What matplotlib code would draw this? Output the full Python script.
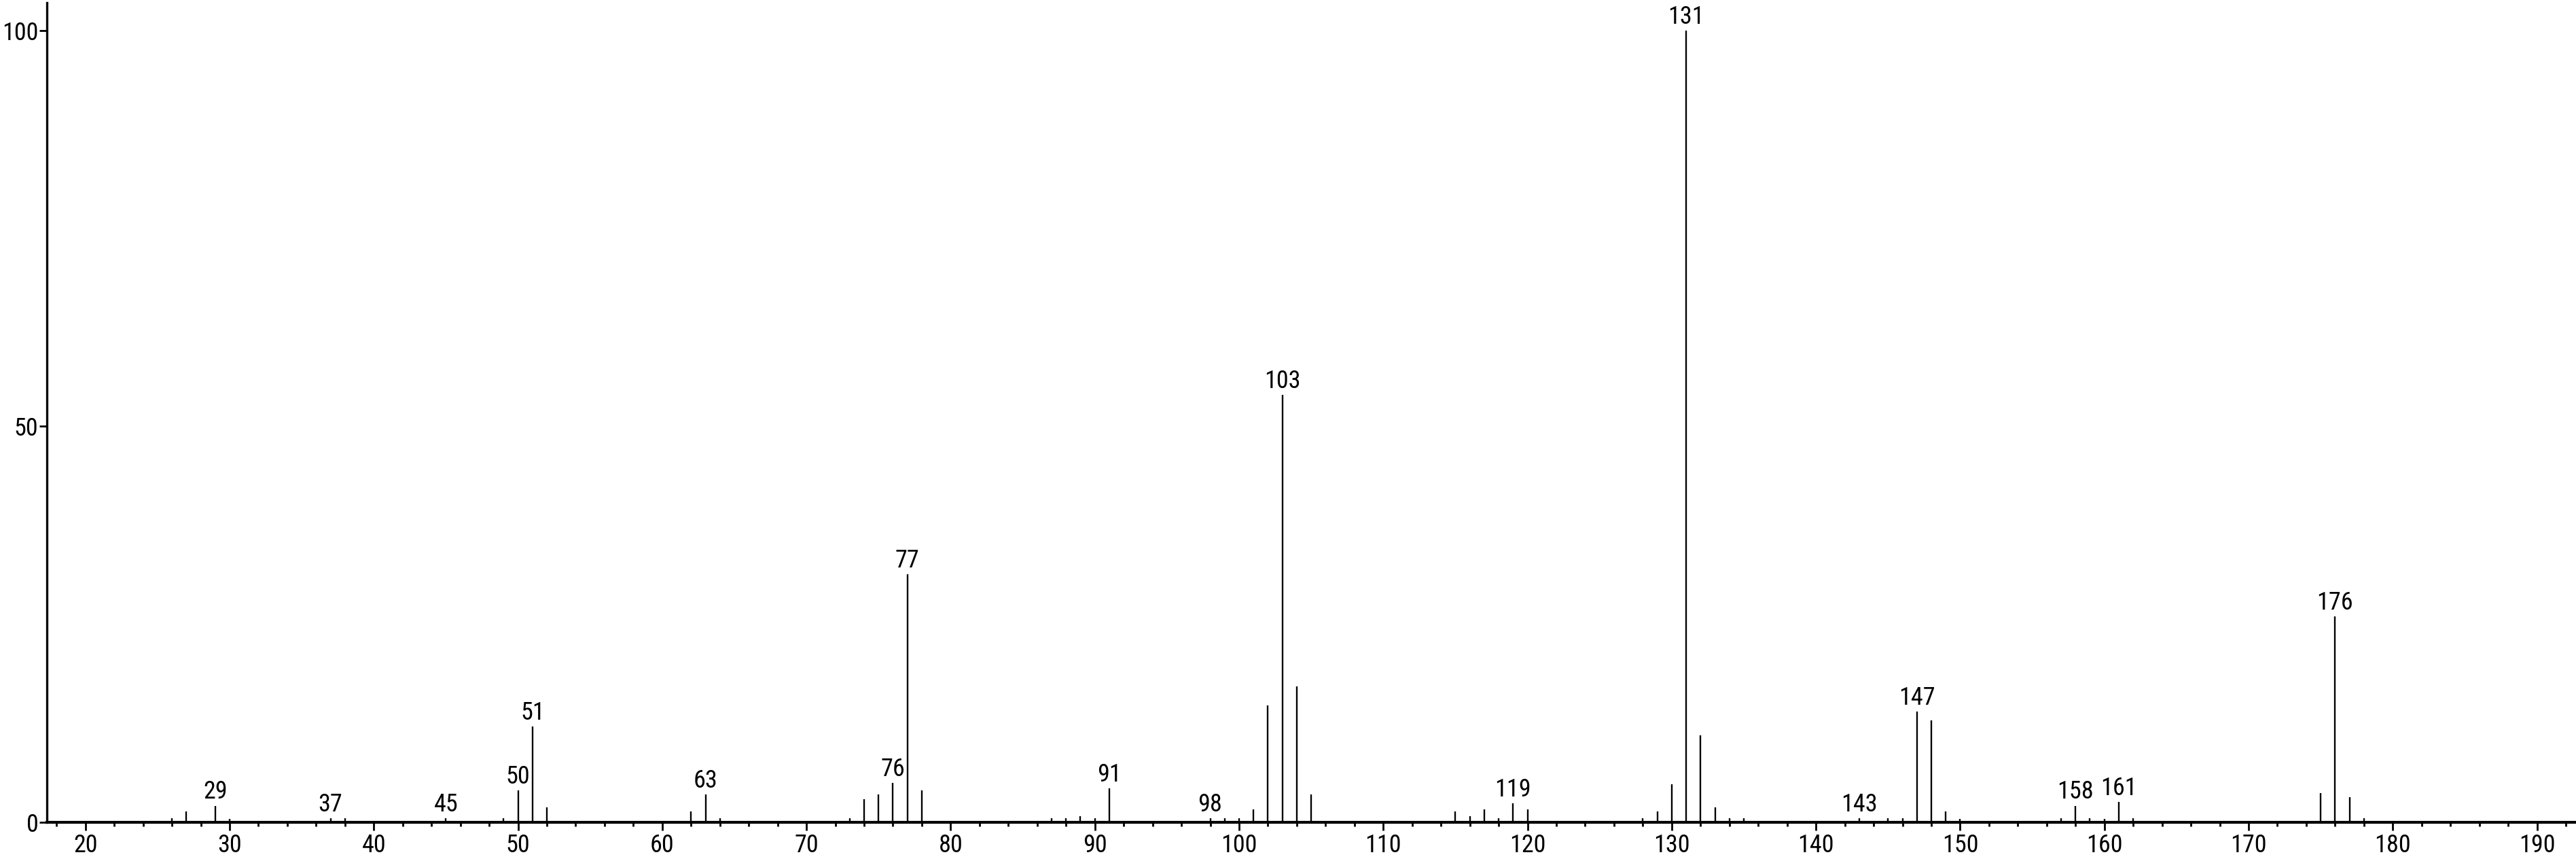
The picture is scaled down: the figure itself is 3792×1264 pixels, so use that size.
"""
Spectre de masse (barres verticales).
Trace les pics m/z avec leur intensité relative et annote les pics principaux.
"""

import matplotlib
matplotlib.use("Agg")
import matplotlib.pyplot as plt
from matplotlib.ticker import MultipleLocator

mz = [26, 27, 29, 30, 37, 38, 45, 49, 50, 51, 52, 62, 63, 64,
      73, 74, 75, 76, 77, 78, 87, 88, 89, 90, 91, 98, 99, 100,
      101, 102, 103, 104, 105, 115, 116, 117, 118, 119, 120,
      128, 129, 130, 131, 132, 133, 134, 135, 143, 145, 146,
      147, 148, 149, 150, 157, 158, 159, 160, 161, 162,
      175, 176, 177, 178]
intensite = [0.5, 1.4, 2.1, 0.4, 0.5, 0.5, 0.5, 0.5, 4.0, 12.1, 1.9, 1.4, 3.5, 0.5,
             0.5, 2.9, 3.5, 5.0, 31.3, 4.0, 0.5, 0.5, 0.8, 0.5, 4.3, 0.5, 0.5, 0.5,
             1.6, 14.8, 54.0, 17.2, 3.5, 1.35, 0.8, 1.6, 0.5, 2.4, 1.6,
             0.5, 1.35, 4.8, 100.0, 11.0, 1.9, 0.5, 0.5, 0.5, 0.5, 0.5,
             14.0, 12.9, 1.35, 0.4, 0.5, 2.1, 0.5, 0.4, 2.6, 0.5,
             3.7, 26.0, 3.2, 0.5]

# Pics annotés
pics_annotes = [29, 37, 45, 50, 51, 63, 76, 77, 91, 98, 103, 119,
                131, 143, 147, 158, 161, 176]

x_ticks = [20, 30, 40, 50, 60, 70, 80, 90, 100, 110, 120, 130,
           140, 150, 160, 170, 180, 190]
y_ticks = [0, 50, 100]


def tracer_spectre():
    # police étroite si disponible, sinon Liberation Sans
    plt.rcParams['font.family'] = ['Roboto Condensed', 'Liberation Sans Narrow',
                                   'Liberation Sans', 'DejaVu Sans']

    fig = plt.figure(figsize=(37.92, 12.64), dpi=100)
    ax = fig.add_axes([0.0182, 0.0427, 0.9816, 0.9541])

    # Les pics
    ax.vlines(mz, 0, intensite, colors='black', linewidth=1.7)

    # Étiquettes au-dessus des pics principaux
    for m, i in zip(mz, intensite):
        if m in pics_annotes:
            ax.annotate(str(m), xy=(m, i), xytext=(0, 1.5), textcoords='offset points',
                        ha='center', va='bottom', fontsize=26)

    ax.set_xlim(17.33, 192.67)
    ax.set_ylim(0, 103.5)

    ax.set_xticks(x_ticks)
    ax.xaxis.set_minor_locator(MultipleLocator(2))
    ax.set_yticks(y_ticks)

    # Axes style spectro : seulement gauche et bas
    ax.spines['top'].set_visible(False)
    ax.spines['right'].set_visible(False)
    ax.spines['left'].set_linewidth(2.4)
    ax.spines['bottom'].set_linewidth(3.0)

    ax.tick_params(axis='x', which='major', length=8.5, width=2.0, labelsize=26, pad=3)
    ax.tick_params(axis='x', which='minor', length=4.3, width=2.0)
    ax.tick_params(axis='y', which='major', length=8, width=2.0, labelsize=26, pad=1)

    fig.savefig('out.png', dpi=100, facecolor='white')


if __name__ == "__main__":
    tracer_spectre()
